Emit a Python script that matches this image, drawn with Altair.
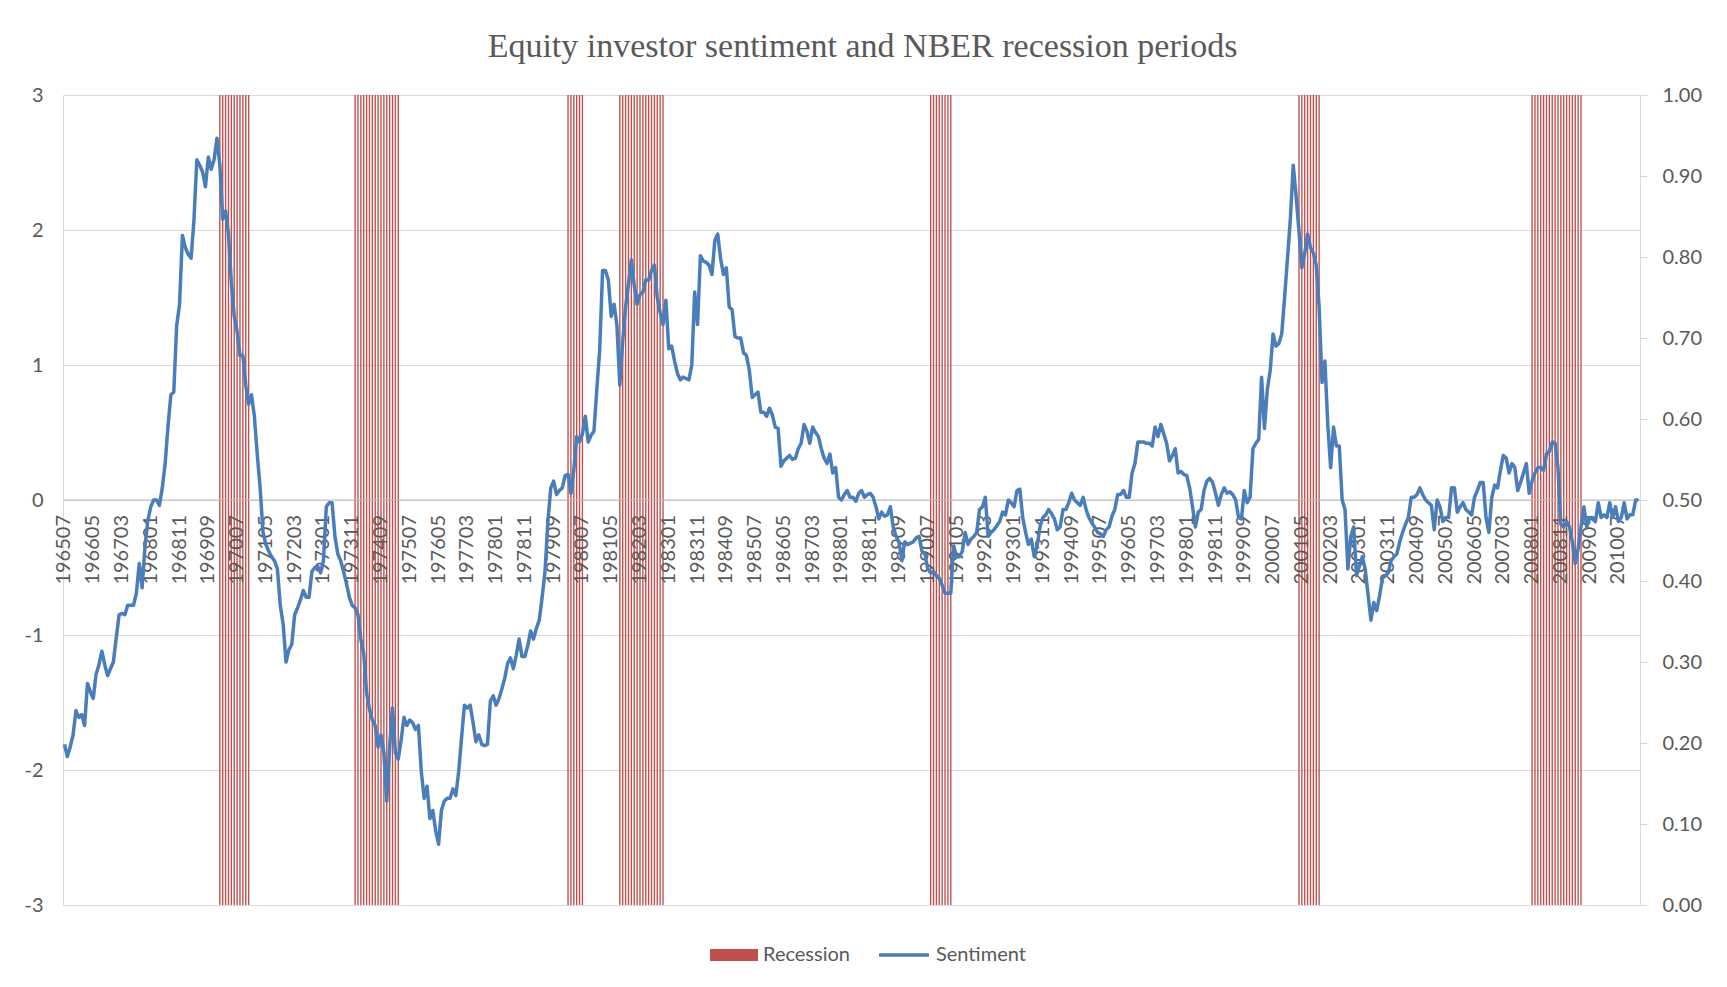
import altair as alt
import pandas as pd

TITLE = "Equity investor sentiment and NBER recession periods"
START_YEAR = 1965
START_MONTH = 7
LABEL_EVERY = 10

# Monthly sentiment values (196507 onward)
sentiment = [
    -1.81, -1.90, -1.83, -1.74, -1.56, -1.61, -1.59, -1.67, -1.36, -1.42,
    -1.47, -1.29, -1.22, -1.12, -1.22, -1.30, -1.25, -1.20, -1.02, -0.85,
    -0.84, -0.85, -0.78, -0.78, -0.78, -0.69, -0.47, -0.65, -0.34, -0.15,
    -0.05, 0.00, 0.00, -0.04, 0.09, 0.27, 0.55, 0.78, 0.80, 1.29,
    1.45, 1.96, 1.87, 1.82, 1.79, 2.07, 2.52, 2.48, 2.43, 2.32,
    2.54, 2.45, 2.52, 2.68, 2.48, 2.08, 2.14, 1.97, 1.61, 1.36,
    1.25, 1.07, 1.07, 0.85, 0.71, 0.78, 0.62, 0.34, 0.09, -0.24,
    -0.33, -0.38, -0.42, -0.45, -0.51, -0.78, -0.92, -1.20, -1.11, -1.07,
    -0.85, -0.80, -0.74, -0.67, -0.72, -0.72, -0.53, -0.50, -0.49, -0.54,
    -0.45, -0.05, -0.02, -0.02, -0.27, -0.40, -0.45, -0.53, -0.62, -0.72,
    -0.78, -0.80, -0.85, -1.03, -1.14, -1.43, -1.55, -1.63, -1.67, -1.83,
    -1.74, -1.87, -2.23, -1.83, -1.54, -1.87, -1.92, -1.78, -1.61, -1.67,
    -1.63, -1.65, -1.70, -1.67, -2.01, -2.21, -2.12, -2.36, -2.30, -2.45,
    -2.55, -2.30, -2.23, -2.21, -2.21, -2.14, -2.19, -2.01, -1.76, -1.52,
    -1.54, -1.52, -1.65, -1.79, -1.74, -1.81, -1.82, -1.81, -1.49, -1.45,
    -1.52, -1.47, -1.40, -1.32, -1.21, -1.17, -1.25, -1.15, -1.03, -1.16,
    -1.16, -1.08, -0.97, -1.03, -0.95, -0.89, -0.72, -0.53, -0.16, 0.09,
    0.14, 0.04, 0.07, 0.09, 0.18, 0.19, 0.05, 0.22, 0.47, 0.43,
    0.49, 0.62, 0.43, 0.48, 0.51, 0.82, 1.11, 1.70, 1.70, 1.63,
    1.36, 1.45, 1.29, 0.85, 1.18, 1.43, 1.60, 1.78, 1.59, 1.45,
    1.52, 1.54, 1.63, 1.63, 1.70, 1.74, 1.50, 1.39, 1.30, 1.48,
    1.12, 1.14, 1.03, 0.94, 0.89, 0.91, 0.90, 0.89, 1.00, 1.54,
    1.30, 1.81, 1.77, 1.76, 1.74, 1.67, 1.92, 1.97, 1.79, 1.67,
    1.72, 1.43, 1.41, 1.21, 1.20, 1.20, 1.09, 1.07, 0.96, 0.76,
    0.78, 0.80, 0.65, 0.65, 0.62, 0.68, 0.63, 0.54, 0.53, 0.25,
    0.29, 0.31, 0.33, 0.30, 0.31, 0.38, 0.42, 0.56, 0.51, 0.42,
    0.54, 0.50, 0.47, 0.38, 0.31, 0.27, 0.34, 0.20, 0.24, 0.02,
    0.00, 0.04, 0.07, 0.02, 0.02, -0.01, 0.05, 0.07, 0.02, 0.04,
    0.05, 0.02, -0.05, -0.14, -0.09, -0.12, -0.11, -0.05, -0.20, -0.27,
    -0.31, -0.45, -0.31, -0.33, -0.32, -0.31, -0.28, -0.27, -0.38, -0.40,
    -0.51, -0.54, -0.53, -0.56, -0.58, -0.63, -0.69, -0.69, -0.69, -0.34,
    -0.42, -0.42, -0.38, -0.24, -0.33, -0.29, -0.27, -0.24, -0.07, -0.05,
    0.02, -0.27, -0.24, -0.22, -0.19, -0.16, -0.09, -0.11, 0.00, -0.02,
    -0.05, 0.07, 0.08, -0.13, -0.24, -0.33, -0.29, -0.42, -0.34, -0.20,
    -0.13, -0.11, -0.07, -0.10, -0.14, -0.22, -0.20, -0.07, -0.07, -0.02,
    0.05, 0.00, -0.02, -0.04, 0.02, -0.07, -0.13, -0.17, -0.20, -0.24,
    -0.25, -0.27, -0.22, -0.20, -0.12, -0.07, 0.04, 0.04, 0.07, 0.02,
    0.02, 0.20, 0.27, 0.43, 0.43, 0.43, 0.42, 0.42, 0.40, 0.54,
    0.47, 0.56, 0.49, 0.42, 0.29, 0.33, 0.38, 0.20, 0.21, 0.19,
    0.18, 0.09, -0.05, -0.20, -0.09, -0.07, 0.07, 0.14, 0.16, 0.13,
    0.05, -0.04, 0.04, 0.09, 0.05, 0.06, 0.04, 0.00, -0.13, -0.14,
    0.07, -0.02, 0.02, 0.38, 0.42, 0.45, 0.91, 0.53, 0.82, 0.96,
    1.23, 1.14, 1.16, 1.23, 1.50, 1.79, 2.08, 2.48, 2.25, 1.99,
    1.72, 1.83, 1.97, 1.87, 1.83, 1.74, 1.43, 0.87, 1.03, 0.56,
    0.24, 0.54, 0.40, 0.40, 0.00, -0.07, -0.51, -0.27, -0.20, -0.56,
    -0.49, -0.42, -0.51, -0.70, -0.89, -0.76, -0.82, -0.71, -0.58, -0.56,
    -0.54, -0.45, -0.42, -0.40, -0.31, -0.24, -0.18, -0.13, 0.02, 0.02,
    0.04, 0.09, 0.04, 0.00, -0.02, -0.04, -0.22, 0.00, -0.05, -0.16,
    -0.13, -0.13, 0.09, 0.09, -0.09, -0.05, -0.02, -0.07, -0.09, -0.11,
    0.02, 0.07, 0.13, 0.13, -0.13, -0.24, 0.02, 0.11, 0.09, 0.22,
    0.33, 0.31, 0.20, 0.27, 0.24, 0.07, 0.13, 0.20, 0.27, 0.05,
    0.14, 0.20, 0.24, 0.24, 0.22, 0.34, 0.36, 0.43, 0.42, 0.24,
    -0.18, -0.20, -0.16, -0.20, -0.31, -0.47, -0.36, -0.20, -0.05, -0.20,
    -0.13, -0.13, -0.16, -0.02, -0.13, -0.11, -0.13, -0.02, -0.13, -0.05,
    -0.16, -0.13, -0.02, -0.14, -0.11, -0.11, 0.00, 0.00,
]

# NBER recession months (first, last) as YYYYMM
recession_periods = [
    (197001, 197011),
    (197312, 197503),
    (198002, 198007),
    (198108, 198211),
    (199008, 199103),
    (200104, 200111),
    (200801, 200906),
]

left_ticks = [-3, -2, -1, 0, 1, 2, 3]
right_ticks = [0.0, 0.1, 0.2, 0.3, 0.4, 0.5, 0.6, 0.7, 0.8, 0.9, 1.0]

# ---- build tables ----
n = len(sentiment)
months = []
yy, mm = START_YEAR, START_MONTH
for _ in range(n):
    months.append(yy * 100 + mm)
    mm += 1
    if mm > 12:
        mm = 1
        yy += 1


def in_recession(ym):
    return any(a <= ym <= b for a, b in recession_periods)


df = pd.DataFrame({
    "idx": list(range(n)),
    "month": [str(v) for v in months],
    "sent": sentiment,
    "rec": [1 if in_recession(v) else 0 for v in months],
    "base": [0] * n,
    "series": ["Sentiment"] * n,
    "zero": [0] * n,
})
rec_df = df[df["rec"] == 1].copy()
rec_df["series"] = "Recession"
lab_df = df[df["idx"] % LABEL_EVERY == 0].copy()

FONT = "Lato"
GRAY = "#595959"
W, H = 1577, 810

xscale = alt.Scale(domain=[-0.5, n - 0.5], nice=False, zero=False, padding=0)
yleft = alt.Scale(domain=[-3, 3], nice=False, zero=False, padding=0)
yright = alt.Scale(domain=[0, 1], nice=False, zero=True, padding=0)

left_axis = alt.Axis(
    orient="left", values=left_ticks, title=None, grid=True, gridColor="#d9d9d9",
    gridWidth=1, domain=True, domainColor="#d9d9d9", ticks=False, tickSize=0,
    labelPadding=20, labelFont=FONT, labelFontSize=20, labelColor=GRAY,
    labelExpr="'' + datum.value",
)
right_axis = alt.Axis(
    orient="right", values=right_ticks, format=".2f", title=None, grid=False,
    domain=True, domainColor="#d9d9d9", ticks=True, tickSize=7, tickColor="#d9d9d9",
    labelPadding=15, labelFont=FONT, labelFontSize=20, labelColor=GRAY,
)

bars = alt.Chart(rec_df).transform_calculate(
    x0="datum.idx - 0.24", x1="datum.idx + 0.24"
).mark_bar().encode(
    x=alt.X("x0:Q", scale=xscale, axis=None),
    x2="x1:Q",
    y=alt.Y("rec:Q", scale=yright, axis=right_axis, stack=None),
    y2="base:Q",
    fill=alt.Fill(
        "series:N",
        scale=alt.Scale(domain=["Recession"], range=["#C0504D"]),
        legend=alt.Legend(
            title=None, orient="none", legendX=647, legendY=836,
            symbolType="M-1,-0.25H1V0.25H-1Z", symbolSize=2304,
            symbolStrokeWidth=0, labelFont=FONT, labelFontSize=20,
            labelColor=GRAY, labelOffset=5, padding=0,
        ),
    ),
)

zero_line = alt.Chart(lab_df.head(1)).mark_rule(color="#bfbfbf", strokeWidth=1).encode(
    y=alt.Y("zero:Q", scale=yleft, axis=left_axis)
)

labels = alt.Chart(lab_df).mark_text(
    angle=270, align="right", baseline="middle", dx=-15,
    font=FONT, fontSize=20, color=GRAY,
).encode(
    x=alt.X("idx:Q", scale=xscale, axis=None),
    y=alt.Y("zero:Q", scale=yleft, axis=left_axis),
    text="month:N",
)

line = alt.Chart(df).mark_line(strokeWidth=3.5, strokeJoin="round").encode(
    x=alt.X("idx:Q", scale=xscale, axis=None),
    y=alt.Y("sent:Q", scale=yleft, axis=left_axis),
    stroke=alt.Stroke(
        "series:N",
        scale=alt.Scale(domain=["Sentiment"], range=["#4A7EBB"]),
        legend=alt.Legend(
            title=None, orient="none", legendX=814, legendY=833,
            symbolType="stroke", symbolSize=2500, symbolStrokeWidth=3.5,
            labelFont=FONT, labelFontSize=20, labelColor=GRAY,
            labelOffset=5, padding=0,
        ),
    ),
)

inner = alt.layer(zero_line, labels, line)

chart = alt.layer(bars, inner).resolve_scale(y="independent").properties(
    width=W,
    height=H,
    autosize=alt.AutoSizeParams(type="none"),
    padding={"left": 55, "top": 87, "right": 70, "bottom": 80},
    title=alt.TitleParams(
        TITLE, font="Liberation Serif", fontSize=34, fontWeight="normal",
        color=GRAY, anchor="middle", offset=21, dx=11,
    ),
).configure_view(stroke=None)

chart.save("out.html", embed_options={"renderer": "svg", "actions": False})
